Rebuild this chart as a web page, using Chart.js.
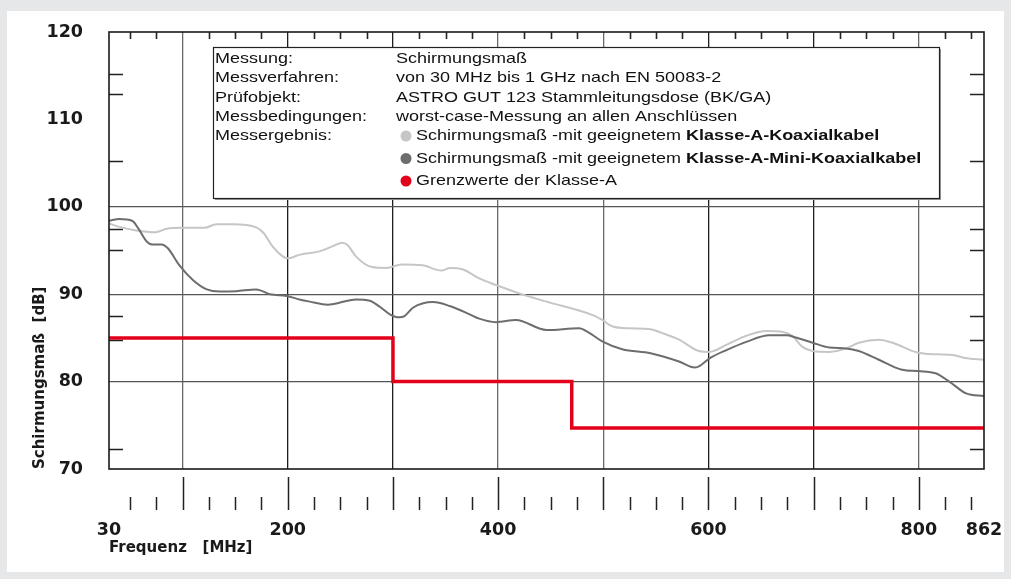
<!DOCTYPE html>
<html>
<head>
<meta charset="utf-8">
<script src="https://cdn.jsdelivr.net/npm/chart.js@4.4.0/dist/chart.umd.min.js"></script>
<style>
  html, body { margin: 0; padding: 0; background: #e6e7e8; }
  #wrap { width: 1011px; height: 579px; }
</style>
</head>
<body>
<div id="wrap"><canvas id="chart" width="1011" height="579"></canvas></div>
<script>
// Schirmungsmaß mit Klasse-A-Koaxialkabel (hellgrau)
const freqKoax = [30, 40, 56, 74, 85, 99, 121, 132, 148, 170, 177, 186, 200, 211, 230, 243, 252, 257, 265, 280,
    294, 308, 328, 346, 354, 366, 382, 398, 420, 446, 490, 499, 509, 525, 545, 555, 572, 591, 601, 617,
    636, 655, 670, 680, 689, 699, 715, 731, 743, 762, 775, 798, 806, 832, 844, 862];
const dbKoax = [98.1, 97.7, 97.3, 97.1, 97.5, 97.6, 97.6, 98.0, 98.0, 97.65, 97.0, 95.4, 94.1, 94.5, 94.9, 95.5, 95.9, 95.6, 94.3, 93.1,
    93.0, 93.4, 93.3, 92.7, 93.0, 92.85, 91.8, 91.05, 90.1, 89.15, 87.6, 87.05, 86.3, 86.1, 86.0, 85.6, 84.8, 83.5, 83.4, 84.2,
    85.25, 85.8, 85.7, 85.2, 84.0, 83.5, 83.4, 83.8, 84.45, 84.8, 84.45, 83.35, 83.2, 83.05, 82.7, 82.5];

// Schirmungsmaß mit Klasse-A-Mini-Koaxialkabel (dunkelgrau)
const freqMini = [30, 40, 52, 58, 66, 71, 80, 86, 97, 110, 123, 135, 151, 170, 183, 199, 211, 221, 238, 265,
    278, 287, 297, 306, 311, 319, 338, 354, 373, 382, 398, 417, 446, 477, 485, 499, 518, 545, 572, 587,
    593, 601, 617, 636, 658, 674, 683, 699, 715, 731, 743, 762, 784, 800, 816, 829, 845, 862];
const dbMini = [98.4, 98.6, 98.4, 97.5, 96.0, 95.7, 95.7, 95.25, 93.3, 91.6, 90.55, 90.3, 90.35, 90.55, 90.0, 89.8, 89.4, 89.15, 88.8, 89.4,
    89.25, 88.6, 87.7, 87.35, 87.5, 88.45, 89.1, 88.65, 87.7, 87.2, 86.8, 87.05, 85.9, 86.1, 85.7, 84.6, 83.7, 83.25, 82.3, 81.6,
    81.9, 82.65, 83.6, 84.55, 85.3, 85.3, 85.05, 84.45, 83.9, 83.8, 83.5, 82.5, 81.35, 81.2, 80.95, 80.0, 78.65, 78.35];

// Grenzwerte Klasse A (Stufen)
const freqLimit = [30, 300, 470, 862];
const dbLimit = [85, 80, 74.7, 74.7];

// Achsen
const xTickValues = [30, 100, 200, 300, 400, 500, 600, 700, 800, 862];
const xLabelValues = [30, 200, 400, 600, 800, 862];
const xMinorStep = 25;
const yTickValues = [70, 80, 90, 100, 110, 120];
const yGridValues = [80, 90, 100];
const yMarkValues = [115.2, 112.9, 105.2, 97.5, 95.1, 87.5, 84.8, 72.3];

// Legendentext
const legendLabels = ['Messung:', 'Messverfahren:', 'Prüfobjekt:', 'Messbedingungen:', 'Messergebnis:'];
const legendValues = ['Schirmungsmaß', 'von 30 MHz bis 1 GHz nach EN 50083-2',
    'ASTRO GUT 123 Stammleitungsdose (BK/GA)', 'worst-case-Messung an allen Anschlüssen'];
const seriesPrefix = 'Schirmungsmaß -mit geeignetem ';
const seriesNames = ['Klasse-A-Koaxialkabel', 'Klasse-A-Mini-Koaxialkabel'];
const limitName = 'Grenzwerte der Klasse-A';

const COL_LIGHT = '#c6c6c6';
const COL_DARK = '#6d6d6d';
const COL_RED = '#e2001a';
const TXT = '"Liberation Sans", Arial, sans-serif';
const AXIS_FONT = '"DejaVu Sans", "Liberation Sans", sans-serif';

const toPoints = (xs, ys) => xs.map((x, i) => ({x: x, y: ys[i]}));

// grey card, white sheet, frame and the small tick marks
const framePlugin = {
    id: 'frame',
    beforeDraw(chart) {
        const ctx = chart.ctx;
        ctx.save();
        ctx.fillStyle = '#e6e7e8';
        ctx.fillRect(0, 0, chart.width, chart.height);
        ctx.fillStyle = '#ffffff';
        ctx.fillRect(7, 11, 997, 561);
        ctx.restore();
    },
    beforeDatasetsDraw(chart) {
        const {ctx, chartArea: a, scales: {x, y}} = chart;
        ctx.save();
        ctx.strokeStyle = '#222';
        ctx.lineWidth = 1.5;
        ctx.beginPath();
        // bottom outer marks: short every 25 MHz, long at the hundreds
        for (let f = 50; f < 862; f += xMinorStep) {
            const px = Math.round(x.getPixelForValue(f)) + 0.5;
            ctx.moveTo(px, a.bottom + (f % 100 === 0 ? 8 : 28));
            ctx.lineTo(px, a.bottom + 41);
        }
        // left and right inner marks
        yMarkValues.forEach(v => {
            const py = Math.round(y.getPixelForValue(v)) + 0.5;
            ctx.moveTo(a.left, py);
            ctx.lineTo(a.left + 14, py);
            ctx.moveTo(a.right, py);
            ctx.lineTo(a.right - 14, py);
        });
        ctx.stroke();
        ctx.restore();
    },
    afterDatasetsDraw(chart) {
        const {ctx, chartArea: a, scales: {x}} = chart;
        ctx.save();
        ctx.strokeStyle = '#1a1a1a';
        ctx.lineWidth = 1.6;
        ctx.strokeRect(a.left, a.top, a.right - a.left, a.bottom - a.top);

        // short marks hanging from the top edge
        ctx.strokeStyle = '#222';
        ctx.lineWidth = 1.6;
        ctx.beginPath();
        for (let f = 50; f < 862; f += xMinorStep) {
            if (f % 100 === 0) continue;
            const px = Math.round(x.getPixelForValue(f)) + 0.5;
            ctx.moveTo(px, a.top);
            ctx.lineTo(px, a.top + 7);
        }
        ctx.stroke();

        // legend box
        const bx = 213, by = 47, bw = 726, bh = 151;
        const c1 = 215, c2 = 396, rows = [59, 78, 97.5, 116.5, 136, 158.5, 181];
        const sx = 1.2;
        ctx.fillStyle = '#9a9a9a';
        ctx.fillRect(bx + 2, by + 2, bw, bh);
        ctx.fillStyle = '#fff';
        ctx.fillRect(bx, by, bw, bh);
        ctx.strokeStyle = '#222';
        ctx.lineWidth = 1.2;
        ctx.strokeRect(bx + 0.5, by + 0.5, bw, bh);

        ctx.fillStyle = '#111';
        ctx.textBaseline = 'middle';
        const text = (str, px, py, bold) => {
            ctx.font = (bold ? 'bold ' : '') + '15px ' + TXT;
            ctx.save();
            ctx.translate(px, py);
            ctx.scale(sx, 1);
            ctx.fillText(str, 0, 0);
            ctx.restore();
            return ctx.measureText(str).width * sx;
        };
        legendLabels.forEach((s, i) => text(s, c1, rows[i]));
        legendValues.forEach((s, i) => text(s, c2, rows[i]));

        const dot = (col, py) => {
            ctx.fillStyle = col;
            ctx.beginPath();
            ctx.arc(c2 + 10, py, 5.5, 0, Math.PI * 2);
            ctx.fill();
            ctx.fillStyle = '#111';
        };
        [COL_LIGHT, COL_DARK].forEach((col, i) => {
            const py = rows[4 + i];
            dot(col, py);
            const w = text(seriesPrefix, c2 + 20, py);
            text(seriesNames[i], c2 + 20 + w, py, true);
        });
        dot(COL_RED, rows[6]);
        text(limitName, c2 + 20, rows[6]);
        ctx.restore();
    }
};

const xGridColors = {100: '#6a6a6a', 200: '#1e1e1e', 300: '#1e1e1e', 400: '#6a6a6a',
    500: '#6a6a6a', 600: '#1e1e1e', 700: '#1e1e1e', 800: '#6a6a6a'};

new Chart(document.getElementById('chart'), {
    type: 'line',
    data: {
        datasets: [{
            label: limitName,
            data: toPoints(freqLimit, dbLimit),
            stepped: 'before',
            borderColor: COL_RED,
            borderWidth: 3.5,
            pointRadius: 0,
            order: 0
        }, {
            label: seriesNames[0],
            data: toPoints(freqKoax, dbKoax),
            borderColor: COL_LIGHT,
            borderWidth: 2,
            cubicInterpolationMode: 'monotone',
            pointRadius: 0,
            order: 2
        }, {
            label: seriesNames[1],
            data: toPoints(freqMini, dbMini),
            borderColor: COL_DARK,
            borderWidth: 2,
            cubicInterpolationMode: 'monotone',
            pointRadius: 0,
            order: 1
        }]
    },
    options: {
        responsive: false,
        animation: false,
        devicePixelRatio: 1,
        layout: {padding: {top: 32, right: 27, left: 0, bottom: 0}},
        plugins: {legend: {display: false}, tooltip: {enabled: false}},
        scales: {
            x: {
                type: 'linear',
                min: 30,
                max: 862,
                afterFit: s => {
                    s.height = 110;
                    s.paddingLeft = 0;
                    s.paddingRight = 0;
                },
                afterBuildTicks: s => { s.ticks = xTickValues.map(v => ({value: v})); },
                border: {display: false},
                grid: {
                    drawTicks: false,
                    lineWidth: 1.3,
                    color: c => xGridColors[c.tick && c.tick.value] || 'rgba(0,0,0,0)'
                },
                ticks: {
                    autoSkip: false,
                    maxRotation: 0,
                    padding: 51,
                    color: '#1a1a1a',
                    font: {family: AXIS_FONT, size: 17.5, weight: 'bold'},
                    callback: v => xLabelValues.includes(v) ? String(v) : ''
                },
                title: {
                    display: true,
                    text: 'Frequenz   [MHz]',
                    align: 'start',
                    color: '#1a1a1a',
                    font: {family: AXIS_FONT, size: 15, weight: 'bold'},
                    padding: {top: 0, bottom: 22}
                }
            },
            y: {
                type: 'linear',
                min: 70,
                max: 120,
                afterFit: s => {
                    s.width = 109;
                    s.paddingTop = 0;
                    s.paddingBottom = 0;
                },
                afterBuildTicks: s => { s.ticks = yTickValues.map(v => ({value: v})); },
                border: {display: false},
                grid: {
                    drawTicks: false,
                    lineWidth: 1.3,
                    color: c => yGridValues.includes(c.tick && c.tick.value) ? '#555' : 'rgba(0,0,0,0)'
                },
                ticks: {
                    padding: 26,
                    color: '#1a1a1a',
                    font: {family: AXIS_FONT, size: 17.5, weight: 'bold'}
                },
                title: {
                    display: true,
                    text: 'Schirmungsmaß  [dB]',
                    align: 'start',
                    color: '#1a1a1a',
                    font: {family: AXIS_FONT, size: 15, weight: 'bold'},
                    padding: {top: 31, bottom: 0}
                }
            }
        }
    },
    plugins: [framePlugin]
});
</script>
</body>
</html>
